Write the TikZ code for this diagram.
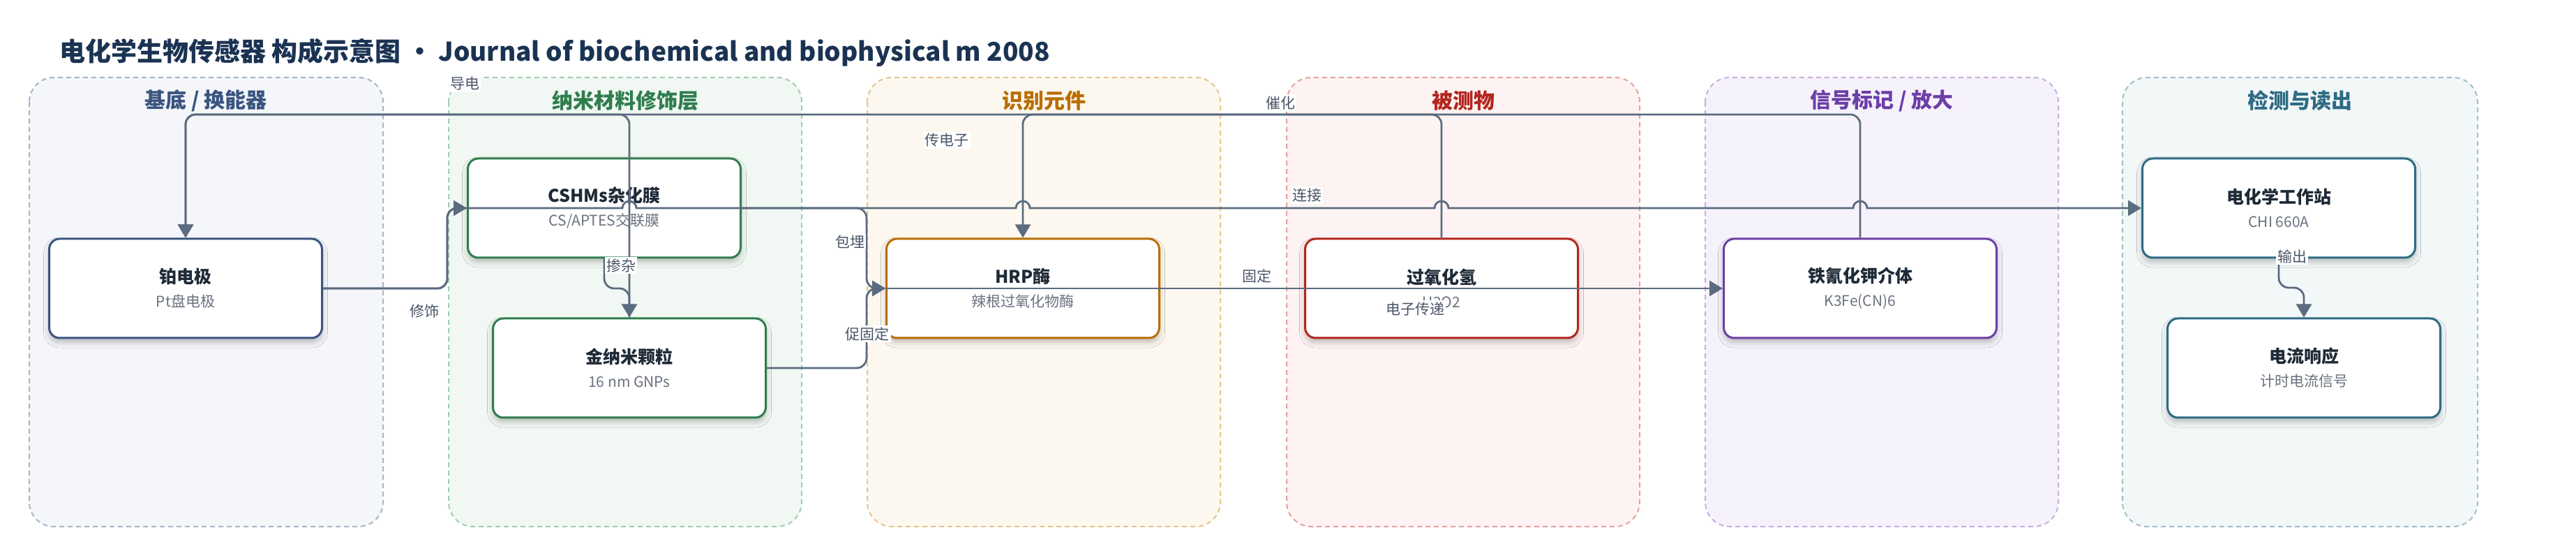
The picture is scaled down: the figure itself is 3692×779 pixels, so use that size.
\documentclass[tikz,border=0pt]{standalone}
\usepackage{fontspec}
\setmainfont{Noto Sans CJK SC}
\usetikzlibrary{arrows.meta,shadows.blur}

\definecolor{ink}{HTML}{1B3353}
\definecolor{nodeink}{HTML}{1F2A37}
\definecolor{subgray}{HTML}{6B7280}
\definecolor{lblgray}{HTML}{4A5568}
\definecolor{flowgray}{HTML}{5B6B80}
% lane colours: line / fill / title
\definecolor{baseln}{HTML}{A7B4C8}\definecolor{basebg}{HTML}{F4F6FA}\definecolor{basetx}{HTML}{3B5580}
\definecolor{nanoln}{HTML}{9FCDB0}\definecolor{nanobg}{HTML}{F1F8F3}\definecolor{nanotx}{HTML}{2F7D4D}
\definecolor{recoln}{HTML}{E6C48F}\definecolor{recobg}{HTML}{FDF8EF}\definecolor{recotx}{HTML}{B86E00}
\definecolor{analn}{HTML}{E6A0A0}\definecolor{anabg}{HTML}{FDF3F2}\definecolor{anatx}{HTML}{B3261E}
\definecolor{sigln}{HTML}{C6AFE0}\definecolor{sigbg}{HTML}{F6F2FB}\definecolor{sigtx}{HTML}{6C3EA8}
\definecolor{detln}{HTML}{A0BFC9}\definecolor{detbg}{HTML}{F2F7F8}\definecolor{dettx}{HTML}{2E6B85}

\newcommand{\subt}[1]{{\mdseries\fontsize{10.5}{13}\selectfont\color{subgray}#1}}

\tikzset{
    lane/.style 2 args={draw=#1, fill=#2, line width=1pt, dash pattern={on 3.5pt off 2.5pt}, rounded corners=17.5pt},
    lanetitle/.style={font=\fontsize{15}{18}\selectfont\bfseries, text=#1},
    box/.style={draw=#1, fill=white, line width=1.5pt, rounded corners=7.5pt, minimum width=195.5pt, minimum height=71pt, align=center, inner sep=0pt, text=nodeink, font=\fontsize{12.5}{17}\selectfont\bfseries, blur shadow={shadow xshift=0pt, shadow yshift=-3pt, shadow blur radius=4pt, shadow opacity=25}},
    flow/.style={draw=flowgray, line width=1.4pt, rounded corners=7pt},
    arr/.style={-{Triangle[length=9.5pt,width=11pt]}},
    lbl/.style={fill=white, inner sep=1pt, text=lblgray, font=\fontsize{10.5}{12}\selectfont}
}

\begin{document}
\begin{tikzpicture}[x=0.5pt,y=0.5pt,yscale=-1,xscale=1]
    \useasboundingbox (0,0) rectangle (3692,779);

    % Title
    \node [anchor=west, font=\fontsize{18.5}{22}\selectfont\bfseries, text=ink] (title) at (78,75) {电化学生物传感器 构成示意图 · Journal of biochemical and biophysical m 2008};

    %Lanes
    \draw [lane={baseln}{basebg}] (42,111) rectangle (549,754);
    \draw [lane={nanoln}{nanobg}] (643,111) rectangle (1149,754);
    \draw [lane={recoln}{recobg}] (1243,111) rectangle (1749,754);
    \draw [lane={analn}{anabg}] (1844,111) rectangle (2350,754);
    \draw [lane={sigln}{sigbg}] (2444,111) rectangle (2950,754);
    \draw [lane={detln}{detbg}] (3042,111) rectangle (3551,754);
    \node [lanetitle=basetx] (tbase) at (295,144) {基底 / 换能器};
    \node [lanetitle=nanotx] (tnano) at (896,144) {纳米材料修饰层};
    \node [lanetitle=recotx] (treco) at (1496,144) {识别元件};
    \node [lanetitle=anatx] (tana) at (2097,144) {被测物};
    \node [lanetitle=sigtx] (tsig) at (2697,144) {信号标记 / 放大};
    \node [lanetitle=dettx] (tdet) at (3296,144) {检测与读出};

    %Nodes
    \node [box=basetx] (pt) at (266,413) {铂电极\\\subt{Pt盘电极}};
    \node [box=nanotx] (cshm) at (866,298) {CSHMs杂化膜\\\subt{CS/APTES交联膜}};
    \node [box=nanotx] (gnp) at (902,527) {金纳米颗粒\\\subt{16 nm GNPs}};
    \node [box=recotx] (hrp) at (1466,413) {HRP酶\\\subt{辣根过氧化物酶}};
    \node [box=anatx] (h2o2) at (2066,413) {过氧化氢\\\subt{H2O2}};
    \node [box=sigtx] (k3fe) at (2666,413) {铁氰化钾介体\\\subt{K3Fe(CN)6}};
    \node [box=dettx] (chi) at (3266,298) {电化学工作站\\\subt{CHI 660A}};
    \node [box=dettx] (cur) at (3302,527) {电流响应\\\subt{计时电流信号}};

    %Connectors
    \draw [flow, arr] (pt.east) -- (641,413) -- (641,298) -- (cshm.west);
    \draw [flow, arr] (pt.east) -- (641,413) -- (641,298) -- (700,298) [sharp corners] -- (892,298) arc[start angle=180, end angle=360, radius=10] -- (1456,298) arc[start angle=180, end angle=360, radius=10] -- (2056,298) arc[start angle=180, end angle=360, radius=10] -- (2656,298) arc[start angle=180, end angle=360, radius=10] -- (chi.west);
    \draw [flow, arr] (cshm.south) -- (866,413) -- (902,413) -- (gnp.north);
    \draw [flow, arr] (gnp.north) -- (902,164) -- (266,164) -- (pt.north);
    \draw [flow, arr] (k3fe.north) -- (2666,164) -- (266,164) -- (pt.north);
    \draw [flow, arr] (h2o2.north) -- (2066,164) -- (1466,164) -- (hrp.north);
    \draw [flow, arr] (cshm.east) -- (1242,298) -- (1242,413) -- (hrp.west);
    \draw [flow, arr] (gnp.east) -- (1242,527) -- (1242,413) -- (hrp.west);
    \draw [flow, arr] (hrp.west) -- (k3fe.west);
    \draw [flow, arr] (chi.south) -- (3266,412) -- (3302,412) -- (cur.north);

    % Text Node
    \node [lbl] (ldao) at (666,120) {导电};
    \node [lbl] (lxiu) at (608,446) {修饰};
    \node [lbl] (lchan) at (890,380) {掺杂};
    \node [lbl] (lbao) at (1218,346) {包埋};
    \node [lbl] (lcu) at (1243,478) {促固定};
    \node [lbl] (lchuan) at (1357,201) {传电子};
    \node [lbl] (lcui) at (1835,148) {催化};
    \node [lbl] (llian) at (1873,280) {连接};
    \node [lbl] (lgu) at (1801,395) {固定};
    \node [lbl] (ldian) at (2028,442) {电子传递};
    \node [lbl] (lshu) at (3285,367) {输出};

\end{tikzpicture}
\end{document}
